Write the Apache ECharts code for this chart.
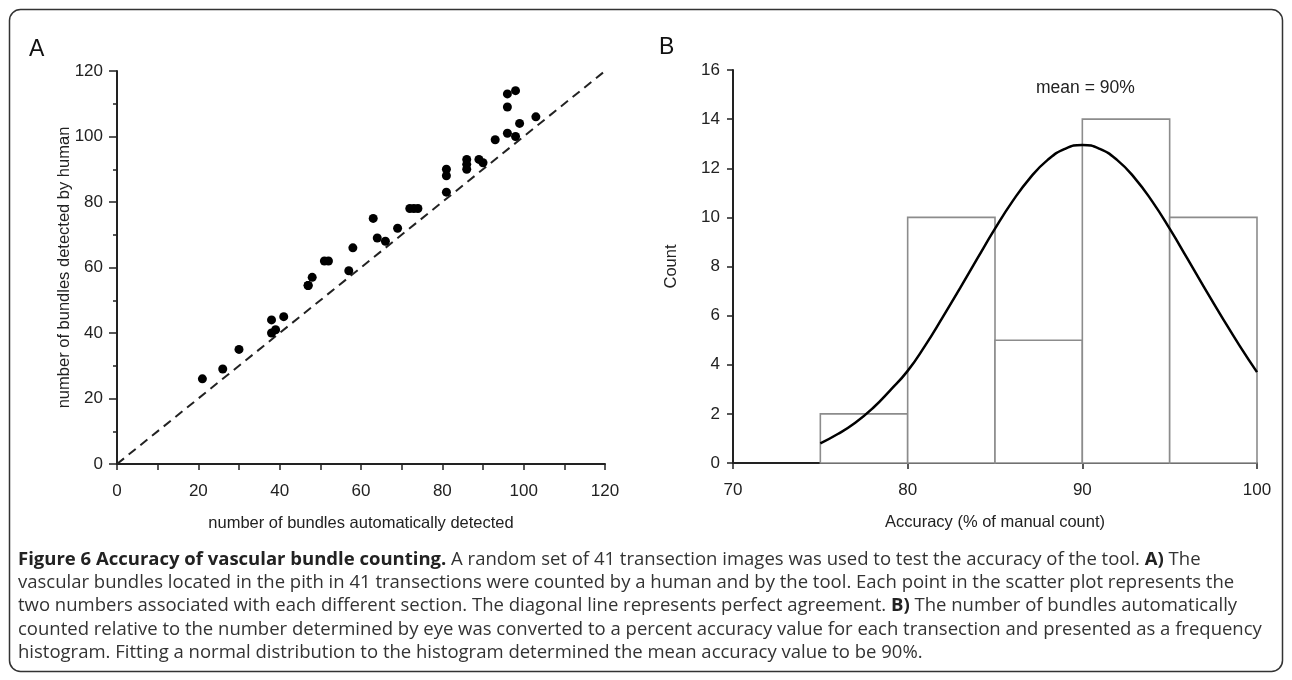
<!DOCTYPE html>
<html>
<head>
<meta charset="utf-8">
<script src="https://cdn.jsdelivr.net/npm/echarts@6/dist/echarts.min.js"></script>
<style>
  html, body { margin: 0; padding: 0; background: #fff; }
  #chart { width: 1292px; height: 680px; }
</style>
</head>
<body>
<div id="chart"></div>
<script>
'use strict';

// panel A: automatic vs human counts
const autoCounts = [21, 26, 30, 38, 38, 39, 41, 47, 47, 48, 51, 52, 57, 58, 63, 64, 66, 69, 72, 73, 74,
  81, 81, 81, 86, 86, 86, 89, 90, 93, 96, 96, 96, 98, 98, 99, 103];
const humanCounts = [26, 29, 35, 44, 40, 41, 45, 54.5, 54.5, 57, 62, 62, 59, 66, 75, 69, 68, 72, 78, 78, 78,
  83, 88, 90, 90, 91.5, 93, 93, 92, 99, 101, 109, 113, 114, 100, 104, 106];
const agreeLine = [[0, 0], [120, 120]];

// panel B: histogram of accuracy
const binStart = [75, 80, 85, 90, 95];
const binEnd = [80, 85, 90, 95, 100];
const binCount = [2, 10, 5, 14, 10];

// fitted normal curve
const curveX = [75, 76, 77, 78, 79, 80, 81, 82, 83, 84, 85, 86, 87, 88, 89, 90,
  91, 92, 93, 94, 95, 96, 97, 98, 99, 100];
const curveY = [0.8, 1.18, 1.64, 2.23, 2.96, 3.75, 4.78, 5.93, 7.12, 8.34, 9.54, 10.65, 11.6, 12.33, 12.79, 12.95,
  12.79, 12.33, 11.6, 10.65, 9.54, 8.34, 7.12, 5.93, 4.78, 3.7];

const captionLines = [
  '{b|Figure 6 Accuracy of vascular bundle counting.} A random set of 41 transection images was used to test the accuracy of the tool. {b|A)} The',
  'vascular bundles located in the pith in 41 transections were counted by a human and by the tool. Each point in the scatter plot represents the',
  'two numbers associated with each different section. The diagonal line represents perfect agreement. {b|B)} The number of bundles automatically',
  'counted relative to the number determined by eye was converted to a percent accuracy value for each transection and presented as a frequency',
  'histogram. Fitting a normal distribution to the histogram determined the mean accuracy value to be 90%.'
];

const FONT = '"Liberation Sans", Arial, sans-serif';
const CAPFONT = '"Open Sans", sans-serif';
const AXIS = '#222';

const chart = echarts.init(document.getElementById('chart'));

function axisBase(extra) {
  return Object.assign({
    axisLine: { show: true, onZero: false, lineStyle: { color: AXIS, width: 2 } },
    axisTick: { show: true, inside: false, length: 6, lineStyle: { color: AXIS, width: 1.5 } },
    axisLabel: { color: AXIS, fontSize: 17, fontFamily: FONT, margin: 19 },
    splitLine: { show: false },
    nameLocation: 'middle',
    nameMoveOverlap: false,
    nameTextStyle: { color: AXIS, fontSize: 16.5, fontFamily: FONT }
  }, extra);
}

const scatterData = autoCounts.map((x, i) => [x, humanCounts[i]]);
const histData = binStart.map((s, i) => [s, binEnd[i], binCount[i]]);
const curveData = curveX.map((x, i) => [x, curveY[i]]);

const graphics = [
  {
    type: 'rect',
    shape: { x: 9.5, y: 9.5, width: 1273, height: 662, r: 11 },
    style: { fill: 'none', stroke: '#333', lineWidth: 1.5 },
    silent: true
  },
  { type: 'text', left: 29, top: 38, style: { text: 'A', fontSize: 23, fontFamily: FONT, fill: '#111' } },
  { type: 'text', left: 659, top: 36, style: { text: 'B', fontSize: 23, fontFamily: FONT, fill: '#111' } },
  { type: 'text', left: 1036, top: 79, style: { text: 'mean = 90%', fontSize: 17.5, fontFamily: FONT, fill: '#222' } }
];

captionLines.forEach(function (line, i) {
  graphics.push({
    type: 'text',
    left: 18,
    top: 550 + i * 23.3,
    style: {
      text: line,
      fontSize: 18.5,
      fontFamily: CAPFONT,
      fill: '#333',
      rich: {
        b: { fontWeight: 'bold', fontSize: 18.5, fontFamily: CAPFONT, fill: '#222' }
      }
    }
  });
});

const option = {
  animation: false,
  backgroundColor: '#fff',
  grid: [
    { left: 117, top: 71, width: 488, height: 393 },
    { left: 733, top: 70, width: 524, height: 393 }
  ],
  xAxis: [
    axisBase({
      gridIndex: 0, type: 'value', min: 0, max: 120, interval: 20,
      minorTick: { show: true, splitNumber: 2, length: 6, lineStyle: { color: AXIS, width: 1.5 } },
      name: 'number of bundles automatically detected', nameGap: 51
    }),
    axisBase({
      gridIndex: 1, type: 'value', min: 70, max: 100, interval: 10,
      name: 'Accuracy (% of manual count)', nameGap: 51
    })
  ],
  yAxis: [
    axisBase({
      gridIndex: 0, type: 'value', min: 0, max: 120, interval: 20,
      minorTick: { show: true, splitNumber: 2, length: 4, lineStyle: { color: AXIS, width: 1.5 } },
      axisTick: { show: true, length: 8, lineStyle: { color: AXIS, width: 1.5 } },
      axisLabel: { color: AXIS, fontSize: 17, fontFamily: FONT, margin: 14 },
      name: 'number of bundles detected by human', nameGap: 44
    }),
    axisBase({
      gridIndex: 1, type: 'value', min: 0, max: 16, interval: 2,
      axisLabel: { color: AXIS, fontSize: 17, fontFamily: FONT, margin: 13 },
      name: 'Count', nameGap: 53
    })
  ],
  graphic: graphics,
  series: [
    {
      type: 'line',
      xAxisIndex: 0, yAxisIndex: 0,
      data: agreeLine,
      showSymbol: false,
      lineStyle: { color: '#222', width: 2, type: [9, 6] },
      z: 2
    },
    {
      type: 'scatter',
      xAxisIndex: 0, yAxisIndex: 0,
      data: scatterData,
      symbolSize: 9,
      itemStyle: { color: '#000', opacity: 1 },
      z: 3
    },
    {
      type: 'custom',
      xAxisIndex: 1, yAxisIndex: 1,
      data: histData,
      renderItem: function (params, api) {
        const p0 = api.coord([api.value(0), api.value(2)]);
        const p1 = api.coord([api.value(1), 0]);
        return {
          type: 'rect',
          shape: { x: p0[0], y: p0[1], width: p1[0] - p0[0], height: p1[1] - p0[1] },
          style: { fill: '#fff', stroke: '#8c8c8c', lineWidth: 1.6 }
        };
      },
      z: 2
    },
    {
      type: 'line',
      xAxisIndex: 1, yAxisIndex: 1,
      data: curveData,
      smooth: true,
      showSymbol: false,
      lineStyle: { color: '#000', width: 2.5 },
      z: 3
    }
  ]
};

chart.setOption(option);
</script>
</body>
</html>
